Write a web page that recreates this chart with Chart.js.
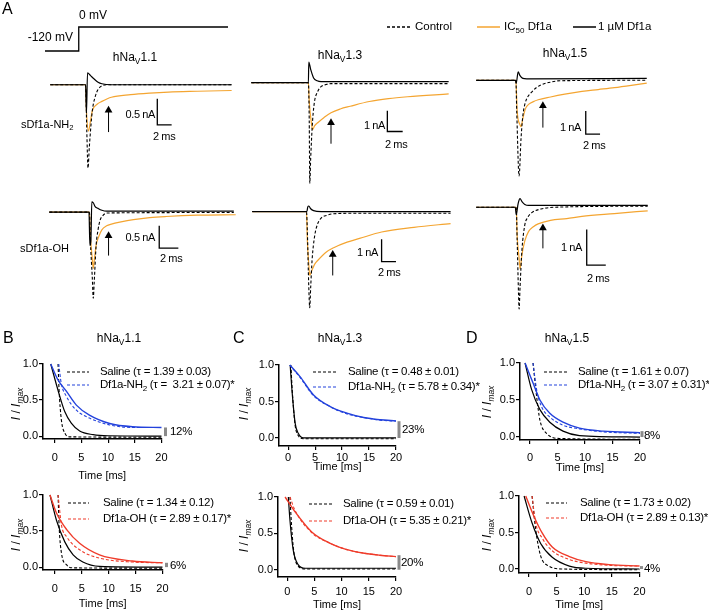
<!DOCTYPE html>
<html>
<head>
<meta charset="utf-8">
<title>Df1a - Nav currents</title>
<script src="https://cdn.jsdelivr.net/npm/chart.js@4.4.1/dist/chart.umd.min.js"></script>
<style>
  body { margin: 0; background: #fff; }
  #fig { position: relative; width: 709px; height: 614px; overflow: hidden;
         font-family: 'Liberation Sans', Arial, sans-serif; color: #000; }
  #fig canvas, #fig svg { position: absolute; }
  .t { position: absolute; white-space: pre; line-height: 1; }
  .t sub { font-size: 0.7em; vertical-align: -0.3em; line-height: 0; }
</style>
</head>
<body>
<div id="fig"></div>
<script>
Chart.defaults.font.family = "'Liberation Sans', Arial, sans-serif";
Chart.defaults.color = '#000';

const ORANGE = '#f4a531';
const BLUE = '#2342dc';
const RED = '#ef3b2a';

// ========== A: voltage protocol ==========
const protocolTime = [0, 4.5, 4.5, 24.4];       // ms
const protocolMv = [-120, -120, 0, 0];          // mV

// ========== A: current traces, [time ms, current nA] ==========
const nav11NH2Control = [[0,0],[4.93,0],[5.1,-0.9],[5.27,-1.6],[5.45,-1.2],[5.87,-0.5],[6.27,-0.23],[6.67,-0.09],[7.2,-0.02],[7.87,0],[25.3,0]];
const nav11NH2Ic50 = [[0,0],[4.93,0],[5.07,-0.55],[5.33,-0.89],[5.6,-0.71],[5.87,-0.5],[6.53,-0.375],[7.2,-0.32],[8.53,-0.24],[11.2,-0.19],[13.87,-0.16],[16.5,-0.14],[20.5,-0.125],[25.3,-0.11]];
const nav11NH2Full = [[0,0],[4.93,0],[5.05,-0.55],[5.2,0.23],[5.6,0.18],[6.13,0.11],[6.67,0.05],[7.2,0.02],[8.5,0],[25.3,0]];

const nav13NH2Control = [[0,0],[7.45,0],[7.56,-1.82],[7.63,-4.86],[7.75,-3.64],[8.0,-1.82],[8.25,-0.91],[8.63,-0.45],[9.13,-0.18],[9.75,-0.09],[10.4,-0.045],[25.75,-0.045]];
const nav13NH2Ic50 = [[0,0],[7.45,0],[7.56,-0.91],[7.88,-2.05],[8.0,-2.27],[8.25,-2.09],[8.75,-1.91],[9.5,-1.68],[10.4,-1.45],[11.6,-1.27],[12.9,-1.14],[15.4,-0.91],[17.9,-0.77],[20.4,-0.68],[25.75,-0.545]];
const nav13NH2Full = [[0,0],[7.45,0],[7.5,1.0],[7.75,0.64],[8.13,0.23],[8.6,0.09],[9.1,0.05],[25.75,0.05]];

const nav15NH2Control = [[0,0],[5.55,0],[5.67,-1.32],[6.0,-4.12],[6.27,-2.52],[6.53,-1.52],[6.8,-1.04],[7.2,-0.72],[7.73,-0.52],[8.4,-0.32],[9.07,-0.2],[10.4,-0.08],[11.73,-0.02],[23.87,0]];
const nav15NH2Ic50 = [[0,0],[5.55,0],[5.73,-1.32],[6.13,-1.92],[6.27,-2.0],[6.53,-1.64],[6.93,-1.2],[7.33,-1.04],[8.0,-0.92],[8.67,-0.84],[10.4,-0.72],[12.4,-0.6],[14.8,-0.48],[17.07,-0.4],[19.33,-0.32],[21.7,-0.22],[23.87,-0.12]];
const nav15NH2Full = [[0,0],[5.5,0],[5.6,-0.12],[5.87,0.36],[6.13,0.2],[6.53,0.08],[7.07,0.06],[23.87,0.08]];

const nav11OHControl = [[0,0],[4.2,0],[4.3,-0.65],[4.5,-1.48],[4.6,-1.94],[4.7,-1.58],[4.9,-0.75],[5.1,-0.4],[5.3,-0.19],[5.6,-0.08],[6.0,-0.02],[19.3,-0.01]];
const nav11OHIc50 = [[0,0],[4.2,0],[4.3,-0.54],[4.5,-1.06],[4.6,-1.27],[4.7,-1.1],[4.9,-0.75],[5.2,-0.54],[5.5,-0.4],[6.0,-0.31],[6.5,-0.27],[7.5,-0.22],[8.8,-0.17],[10.5,-0.125],[12.2,-0.1],[15.5,-0.07],[19.5,-0.06]];
const nav11OHFull = [[0,0],[4.15,0],[4.25,-0.75],[4.35,-0.65],[4.45,0.23],[4.6,0.21],[4.8,0.125],[5.1,0.083],[5.5,0.04],[6.0,0.02],[19.3,0.02]];

const nav13OHControl = [[0,0],[7.55,0],[7.67,-0.92],[7.87,-3.42],[8.0,-4.33],[8.13,-3.42],[8.33,-2.17],[8.67,-1.125],[9.07,-0.58],[9.6,-0.29],[10.4,-0.17],[11.33,-0.1],[13.6,-0.08],[27.6,-0.08]];
const nav13OHIc50 = [[0,0],[7.55,0],[7.67,-1.33],[7.87,-2.375],[8.0,-2.875],[8.27,-2.67],[8.67,-2.375],[9.2,-2.17],[10.27,-1.83],[11.33,-1.625],[13.2,-1.375],[14.93,-1.21],[18.0,-0.92],[22.5,-0.71],[27.6,-0.54]];
const nav13OHFull = [[0,0],[7.6,0],[7.73,0.21],[7.87,0.25],[8.13,0.125],[8.53,0.04],[9.6,0],[27.6,0]];

const nav15OHControl = [[0,0],[4.2,0],[4.3,-0.95],[4.45,-2.53],[4.5,-2.87],[4.6,-2.26],[4.8,-1.21],[5.1,-0.5],[5.4,-0.29],[5.8,-0.16],[6.8,-0.05],[8.3,0],[18,0.03]];
const nav15OHIc50 = [[0,0],[4.2,0],[4.3,-0.82],[4.5,-1.42],[4.6,-1.74],[4.8,-1.34],[5.1,-0.95],[5.5,-0.68],[6.0,-0.55],[6.5,-0.47],[7.8,-0.37],[9.5,-0.32],[11.1,-0.26],[14.5,-0.18],[18,-0.1]];
const nav15OHFull = [[0,0],[4.1,0],[4.2,-0.21],[4.4,0.1],[4.6,0.24],[4.8,0.16],[5.1,0.08],[5.5,0.05],[18,0.05]];

// scale bar sizes, same order as the panels below
const barNa = [0.5, 1, 1, 0.5, 1, 1];
const barMs = [2, 2, 2, 2, 2, 2];

// ========== B-D: normalized decay, [time ms, I/Imax] ==========
const decayTimeTicks = [0, 5, 10, 15, 20];
const decayNormTicks = [0, 0.5, 1.0];

const b1SalineData = [[0.62,1.0],[0.81,0.64],[1.25,0.22],[1.9,0.04],[2.8,-0.01],[20,-0.015]];
const b1SalineFit = [[-0.75,1.0],[0.6,0.64],[1.87,0.34],[3.1,0.18],[4.67,0.07],[7.2,0.02],[10,0.005],[20,0]];
const b1DrugData = [[0.75,1.0],[1.2,0.74],[2.2,0.55],[4.05,0.36],[6.5,0.25],[10.3,0.155],[14.6,0.12],[20,0.12]];
const b1DrugFit = [[-0.75,1.0],[0.6,0.78],[2.2,0.62],[4.05,0.43],[6.5,0.29],[10.3,0.175],[14.6,0.13],[20,0.12]];

const b2SalineData = [[0.6,1.0],[0.8,0.56],[1.24,0.19],[2.2,0.03],[3.4,-0.01],[20,-0.015]];
const b2SalineFit = [[-0.9,1.0],[0.3,0.65],[1.85,0.35],[3.4,0.17],[5.2,0.07],[8.3,0.01],[20,0]];
const b2DrugData = [[0.6,1.0],[1.24,0.58],[2.2,0.42],[4.6,0.24],[8.3,0.125],[14.4,0.07],[20,0.06]];
const b2DrugFit = [[-0.9,1.0],[0.3,0.75],[2.2,0.52],[4.6,0.33],[8.3,0.17],[14.4,0.085],[20,0.06]];

const c1SalineData = [[0.5,1.0],[0.8,0.6],[1.3,0.17],[1.9,0.03],[2.8,-0.01],[20,-0.01]];
const c1SalineFit = [[0.37,1.0],[0.7,0.66],[1.3,0.2],[1.9,0.06],[2.8,0.0],[20,0]];
const c1DrugData = [[0.3,1.0],[2.2,0.83],[4.7,0.58],[7.8,0.43],[10.9,0.33],[14,0.28],[17,0.245],[20,0.23]];
const c1DrugFit = [[0.3,1.0],[2.2,0.84],[4.7,0.59],[7.8,0.43],[10.9,0.34],[14,0.28],[17,0.25],[20,0.235]];

const c2SalineData = [[0.5,1.0],[0.8,0.6],[1.2,0.25],[2.0,0.05],[3.3,0.01],[20,0.01]];
const c2SalineFit = [[0.2,1.0],[0.5,0.68],[1.1,0.27],[2.0,0.07],[3.3,0.02],[20,0.02]];
const c2DrugData = [[0.5,1.0],[1.4,0.82],[4.5,0.51],[7.7,0.37],[10.8,0.28],[13.9,0.23],[17,0.2],[20,0.18]];
const c2DrugFit = [[-0.4,1.0],[1.4,0.8],[4.5,0.52],[7.7,0.37],[10.8,0.28],[13.9,0.23],[17,0.2],[20,0.18]];

const d1SalineData = [[0.55,1.0],[1.2,0.55],[1.8,0.23],[3.0,0.05],[5.5,-0.02],[20,-0.03]];
const d1SalineFit = [[-0.9,1.0],[0.3,0.64],[1.8,0.37],[3.6,0.2],[6.0,0.08],[9,0.02],[20,0]];
const d1DrugData = [[0.55,1.0],[1.2,0.64],[2.1,0.41],[3.6,0.27],[6.0,0.16],[9,0.11],[13.3,0.07],[20,0.05]];
const d1DrugFit = [[-0.9,1.0],[0.55,0.73],[1.8,0.5],[3.6,0.32],[6.0,0.2],[9,0.12],[13.3,0.08],[20,0.06]];

const d2SalineData = [[0.55,1.0],[1.2,0.54],[2.1,0.18],[3.6,0.04],[6,0.0],[20,-0.01]];
const d2SalineFit = [[-0.9,1.0],[0.55,0.63],[2.1,0.35],[4.2,0.16],[7.3,0.04],[10.3,0.01],[20,0]];
const d2DrugData = [[0.55,1.0],[1.2,0.63],[2.4,0.42],[4.2,0.25],[7.3,0.13],[10.3,0.08],[14.5,0.05],[20,0.04]];
const d2DrugFit = [[-0.6,1.0],[0.9,0.72],[2.4,0.49],[4.2,0.3],[7.3,0.17],[10.3,0.1],[14.5,0.06],[20,0.04]];

// residual current (%) and tau labels, order B1 B2 C1 C2 D1 D2
const residualPct = [12, 6, 23, 20, 8, 4];
const salineTau = ['1.39 ± 0.03', '1.34 ± 0.12', '0.48 ± 0.01', '0.59 ± 0.01', '1.61 ± 0.07', '1.73 ± 0.02'];
const drugTau = [' 3.21 ± 0.07', '2.89 ± 0.17', '5.78 ± 0.34', '5.35 ± 0.21', '3.07 ± 0.31', '2.89 ± 0.13'];
const drugName = ['Df1a-NH<sub>2</sub>', 'Df1a-OH'];
const channelName = ['hNa<sub>V</sub>1.1', 'hNa<sub>V</sub>1.3', 'hNa<sub>V</sub>1.5'];

// ========== helpers ==========
const fig = document.getElementById('fig');

function addCanvas(left, top, w, h) {
  const c = document.createElement('canvas');
  c.width = w; c.height = h;
  c.style.left = left + 'px'; c.style.top = top + 'px';
  c.style.width = w + 'px'; c.style.height = h + 'px';
  fig.appendChild(c);
  return c;
}

function addText(html, x, y, size, align, extra) {
  const d = document.createElement('div');
  d.className = 't';
  d.innerHTML = html;
  d.style.left = x + 'px';
  d.style.top = y + 'px';
  d.style.fontSize = size + 'px';
  const tx = align === 'center' ? '-50%' : align === 'right' ? '-100%' : '0';
  d.style.transform = 'translate(' + tx + ',-50%)';
  if (extra) Object.assign(d.style, extra);
  fig.appendChild(d);
  return d;
}

function addSwatch(x1, x2, y, color, dash, width) {
  const ns = 'http://www.w3.org/2000/svg';
  const svg = document.createElementNS(ns, 'svg');
  svg.setAttribute('width', x2 - x1);
  svg.setAttribute('height', 6);
  svg.style.left = x1 + 'px';
  svg.style.top = (y - 3) + 'px';
  const ln = document.createElementNS(ns, 'line');
  ln.setAttribute('x1', 0); ln.setAttribute('x2', x2 - x1);
  ln.setAttribute('y1', 3); ln.setAttribute('y2', 3);
  ln.setAttribute('stroke', color);
  ln.setAttribute('stroke-width', width || 1.3);
  if (dash) ln.setAttribute('stroke-dasharray', dash);
  svg.appendChild(ln);
  fig.appendChild(svg);
}

function lineDs(points, color, width, dash) {
  return {
    data: points.map(([x, y]) => ({ x, y })),
    borderColor: color, borderWidth: width, borderDash: dash || [],
    pointRadius: 0, fill: false, cubicInterpolationMode: 'monotone', clip: false
  };
}

// ========== A: traces ==========
// rect = canvas box, origin = pixel where (originValue) sits, px per unit on x / y
const traceBoxes = [
  { rect: [40, 58, 205, 125], origin: [46, 82], pxX: 7.5, pxY: 56, bar: [14.93, -0.27], arrow: [8.13, -0.91, -0.41], naLbl: [155, 114], msLbl: [153, 136] },
  { rect: [242, 50, 215, 150], origin: [247, 80], pxX: 8, pxY: 22, bar: [17.75, -1.36], arrow: [10.4, -2.95, -1.73], naLbl: [385, 125], msLbl: [385, 144] },
  { rect: [466, 60, 190, 125], origin: [472, 77], pxX: 7.5, pxY: 25, bar: [15.33, -1.32], arrow: [9.33, -2.04, -0.92], naLbl: [581, 127], msLbl: [583, 145] },
  { rect: [40, 190, 205, 120], origin: [45, 209], pxX: 10, pxY: 48, bar: [11.5, -0.31], arrow: [6.2, -0.98, -0.44], naLbl: [155, 237], msLbl: [160, 258] },
  { rect: [242, 195, 215, 122], origin: [248, 208], pxX: 7.5, pxY: 24, bar: [18.0, -1.25], arrow: [11.2, -2.875, -1.75], naLbl: [378, 252], msLbl: [378, 272] },
  { rect: [466, 185, 190, 135], origin: [472, 204], pxX: 10, pxY: 38, bar: [11.6, -0.63], arrow: [7.0, -1.16, -0.47], naLbl: [582, 247], msLbl: [587, 278] }
];
const traceSets = [
  [nav11NH2Full, nav11NH2Control, nav11NH2Ic50],
  [nav13NH2Full, nav13NH2Control, nav13NH2Ic50],
  [nav15NH2Full, nav15NH2Control, nav15NH2Ic50],
  [nav11OHFull, nav11OHControl, nav11OHIc50],
  [nav13OHFull, nav13OHControl, nav13OHIc50],
  [nav15OHFull, nav15OHControl, nav15OHIc50]
];

function traceChart(box, datasets, originValue) {
  const [left, top, w, h] = box.rect;
  const [ox, oy] = box.origin;
  const [vx, vy] = originValue || [0, 0];
  new Chart(addCanvas(left, top, w, h), {
    type: 'line',
    data: { datasets },
    options: {
      responsive: false, animation: false, events: [],
      layout: { padding: 0 },
      plugins: { legend: { display: false }, tooltip: { enabled: false } },
      scales: {
        x: { type: 'linear', display: false, min: vx + (left - ox) / box.pxX, max: vx + (left + w - ox) / box.pxX },
        y: { type: 'linear', display: false, min: vy - (top + h - oy) / box.pxY, max: vy + (oy - top) / box.pxY }
      }
    }
  });
}

traceBoxes.forEach((box, i) => {
  const [full, control, ic50] = traceSets[i];
  const [bt, btop] = box.bar;
  const [at, tail, tip] = box.arrow;
  const head = tip - 4.5 / box.pxY;
  const sets = [
    lineDs(full, '#000', 1.2),
    lineDs(control, '#000', 1.1, [3, 2]),
    lineDs(ic50, ORANGE, 1.2),
    { data: [{ x: at, y: tail }, { x: at, y: head }], borderColor: '#000', borderWidth: 1,
      pointRadius: [0, 4.5], pointStyle: 'triangle', pointBackgroundColor: '#000', pointBorderWidth: 0, tension: 0, clip: false },
    { data: [{ x: bt, y: btop }, { x: bt, y: btop - barNa[i] }, { x: bt + barMs[i], y: btop - barNa[i] }],
      borderColor: '#000', borderWidth: 1.3, pointRadius: 0, tension: 0, clip: false }
  ];
  traceChart(box, sets);
  addText(barNa[i] + ' nA', box.naLbl[0], box.naLbl[1], 11, 'right', { letterSpacing: '-0.4px' });
  addText(barMs[i] + ' ms', box.msLbl[0], box.msLbl[1], 11, 'left', { letterSpacing: '-0.4px' });
});

// voltage step
traceChart({ rect: [40, 20, 195, 40], origin: [45, 51], pxX: 7.5, pxY: 0.2 },
  [{ data: protocolTime.map((t, k) => ({ x: t, y: protocolMv[k] })), borderColor: '#000', borderWidth: 1.3,
     pointRadius: 0, tension: 0, clip: false }], [0, -120]);

// ========== A: labels ==========
addText('A', 2, 9, 16);
addText(protocolMv[2] + ' mV', 79, 15, 12);
addText(protocolMv[0] + ' mV', 73, 37, 12, 'right');
addText(channelName[0], 135, 57, 12, 'center');
addText(channelName[1], 340, 55, 12, 'center');
addText(channelName[2], 565, 53, 12, 'center');
addText('sDf1a-NH<sub>2</sub>', 21, 124, 11);
addText('sDf1a-OH', 20, 248, 11);

addSwatch(387, 411, 27, '#000', '3 2', 1.3);
addText('Control', 415, 27, 11.5);
addSwatch(477, 500, 27, ORANGE, null, 1.5);
addText('IC<sub>50</sub> Df1a', 504, 27, 11.5);
addSwatch(573, 596, 27, '#000', null, 1.5);
addText('1 µM Df1a', 598, 27, 11.5);

// ========== B-D: decay charts ==========
const decayBoxes = [
  { area: [43, 364, 162, 439], xMin: -2.2, yMin: -0.04, tickGap: 19, titleGap: 37, barGap: 4, yTitle: [16, 404], legend: [67, 89, 100, 372, 385], pct: [170, 432] },
  { area: [43, 495, 163, 570], xMin: -2.2, yMin: -0.04, tickGap: 19, titleGap: 34, barGap: 4, yTitle: [16, 535], legend: [68, 89, 103, 503, 519], pct: [170, 566] },
  { area: [279, 365, 396, 446], xMin: -1.7, yMin: -0.11, tickGap: 12, titleGap: 21, barGap: 3, yTitle: [244, 404], legend: [313, 336, 348, 372, 387], pct: [402, 430] },
  { area: [278, 497, 396, 577], xMin: -1.7, yMin: -0.1, tickGap: 15, titleGap: 28, barGap: 3, yTitle: [244, 536], legend: [309, 332, 343, 504, 521], pct: [401, 563] },
  { area: [520, 363, 640, 440], xMin: -1.82, yMin: -0.04, tickGap: 18, titleGap: 28, barGap: 2, yTitle: [487, 402], legend: [544, 567, 578, 372, 385], pct: [644, 436] },
  { area: [519, 496, 640, 573], xMin: -1.82, yMin: -0.055, tickGap: 19, titleGap: 32, barGap: 2, yTitle: [487, 535], legend: [546, 567, 580, 503, 518], pct: [644, 569] }
];
const decaySets = [
  [b1SalineData, b1SalineFit, b1DrugData, b1DrugFit],
  [b2SalineData, b2SalineFit, b2DrugData, b2DrugFit],
  [c1SalineData, c1SalineFit, c1DrugData, c1DrugFit],
  [c2SalineData, c2SalineFit, c2DrugData, c2DrugFit],
  [d1SalineData, d1SalineFit, d1DrugData, d1DrugFit],
  [d2SalineData, d2SalineFit, d2DrugData, d2DrugFit]
];

// grey bar at the right end showing residual current
const residualBar = {
  id: 'residualBar',
  afterDatasetsDraw(chart, args, opts) {
    const { ctx, scales: { x, y } } = chart;
    const px = x.getPixelForValue(x.max) + opts.gap;
    ctx.save();
    ctx.strokeStyle = '#8a8a8a';
    ctx.lineWidth = 3;
    ctx.beginPath();
    ctx.moveTo(px, y.getPixelForValue(0));
    ctx.lineTo(px, y.getPixelForValue(opts.value));
    ctx.stroke();
    ctx.restore();
  }
};

const axisGrid = { display: true, drawOnChartArea: false, drawTicks: true, tickLength: 4, color: '#000', lineWidth: 1.2 };
const axisBorder = { display: true, color: '#000', width: 1.5 };

decayBoxes.forEach((L, i) => {
  const [l, t, r, b] = L.area;
  const yW = 36, padTop = 8, padRight = 14;
  const xH = Math.round(L.titleGap + 6.6);
  const color = i % 2 === 0 ? BLUE : RED;
  const [sData, sFit, dData, dFit] = decaySets[i];
  new Chart(addCanvas(l - yW, t - padTop, (r - l) + yW + padRight, padTop + (b - t) + xH), {
    type: 'line',
    data: {
      datasets: [
        lineDs(dFit, color, 1.4),
        lineDs(dData, color, 1.1, [3, 2]),
        lineDs(sFit, '#000', 1.2),
        lineDs(sData, '#000', 1.1, [3, 2])
      ]
    },
    options: {
      responsive: false, animation: false, events: [],
      layout: { padding: { top: padTop, right: padRight, left: 0, bottom: 0 } },
      plugins: {
        legend: { display: false }, tooltip: { enabled: false },
        residualBar: { value: residualPct[i] / 100, gap: L.barGap }
      },
      scales: {
        x: {
          type: 'linear', min: L.xMin, max: 20,
          afterBuildTicks: s => { s.ticks = decayTimeTicks.map(v => ({ value: v })); },
          afterFit: s => { s.height = xH; },
          ticks: { font: { size: 11 }, padding: L.tickGap - 4 - 6.6, maxRotation: 0, autoSkip: false, callback: v => String(v) },
          grid: axisGrid, border: axisBorder,
          title: { display: true, text: 'Time [ms]', font: { size: 11 }, padding: { top: 0, bottom: 0 } }
        },
        y: {
          type: 'linear', min: L.yMin, max: 1,
          afterBuildTicks: s => { s.ticks = decayNormTicks.map(v => ({ value: v })); },
          afterFit: s => { s.width = yW; },
          ticks: { font: { size: 11 }, padding: 1, callback: v => v.toFixed(1) },
          grid: axisGrid, border: axisBorder
        }
      }
    },
    plugins: [residualBar]
  });

  const [sx1, sx2, tx, y1, y2] = L.legend;
  const ls = { letterSpacing: '-0.3px' };
  addSwatch(sx1, sx2, y1, '#000', '3 2', 1.2);
  addText('Saline (τ = ' + salineTau[i] + ')', tx, y1, 11.5, 'left', ls);
  addSwatch(sx1, sx2, y2, color, '3 2', 1.2);
  addText(drugName[i % 2] + ' (τ = ' + drugTau[i] + ')*', tx, y2, 11.5, 'left', ls);
  addText(residualPct[i] + '%', L.pct[0], L.pct[1], 11.5, 'left', { letterSpacing: '-0.3px' });
  const yt = addText('<i>I</i> / <i>I</i><sub><i>max</i></sub>', L.yTitle[0], L.yTitle[1], 12, 'center');
  yt.style.transform = 'translate(-50%,-50%) rotate(-90deg)';
});

addText('B', 3, 338, 16);
addText('C', 233, 338, 16);
addText('D', 466, 338, 16);
addText(channelName[0], 119, 338, 12, 'center');
addText(channelName[1], 340, 338, 12, 'center');
addText(channelName[2], 567, 338, 12, 'center');
</script>
</body>
</html>
